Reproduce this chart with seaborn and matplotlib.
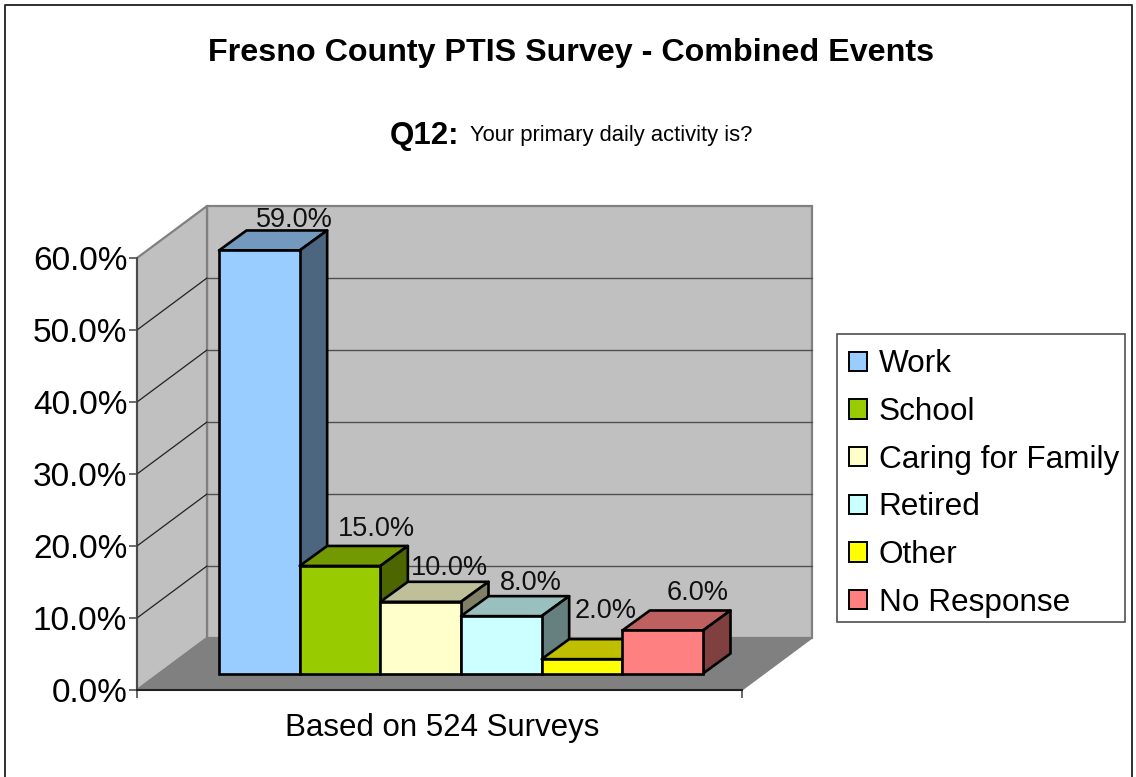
import matplotlib
matplotlib.use("Agg")
import matplotlib.pyplot as plt
from matplotlib.patches import Polygon, Patch, Rectangle
from matplotlib.lines import Line2D
from matplotlib.colors import to_rgb
import seaborn as sns
import pandas as pd

categories = ["Work", "School", "Caring for Family", "Retired", "Other", "No Response"]
values = [59.0, 15.0, 10.0, 8.0, 2.0, 6.0]
colors = ["#99CCFF", "#99CC00", "#FFFFCC", "#CCFFFF", "#FFFF00", "#FF8080"]
y_ticks = [0, 10, 20, 30, 40, 50, 60]
title = "Fresno County PTIS Survey - Combined Events"
question = "Q12:"
subtitle = "Your primary daily activity is?"
xlabel = "Based on 524 Surveys"
label_dx_px = [35, 36, 29, 29, 24, 35]
label_dy_px = [30, 37, 34, 33, 48, 37]

W, H = 1136, 777
sns.set_theme(style="white")
plt.rcParams["font.family"] = ["Liberation Sans", "DejaVu Sans"]
df = pd.DataFrame({"category": categories, "value": values})

fig = plt.figure(figsize=(W / 100, H / 100), dpi=100, facecolor="white")


def px_axes(x0, x1, y_top, y_bottom):
    return fig.add_axes([x0 / W, 1 - y_bottom / H, (x1 - x0) / W, (y_bottom - y_top) / H])


# Front plane of the chart box: value axis and floor edge
ax = px_axes(137, 742, 258, 690)
ax.set_xlim(0, 1)
ax.set_ylim(0, 60)
ax.patch.set_alpha(0)
depth_x = 70 / 605
depth_y = 52 / 7.2

wall_kw = dict(facecolor="#C0C0C0", edgecolor="#808080", linewidth=1.6, clip_on=False, zorder=1)
ax.add_patch(Polygon([(depth_x, depth_y), (1 + depth_x, depth_y), (1 + depth_x, 60 + depth_y), (depth_x, 60 + depth_y)], **wall_kw))
ax.add_patch(Polygon([(0, 0), (depth_x, depth_y), (depth_x, 60 + depth_y), (0, 60)], **wall_kw))
ax.add_patch(Polygon([(0, 0), (1, 0), (1 + depth_x, depth_y), (depth_x, depth_y)],
                     facecolor="#808080", edgecolor="#808080", linewidth=1, clip_on=False, zorder=1.5))
for t in y_ticks[1:-1]:
    ax.plot([0, depth_x], [t, t + depth_y], color="#202020", lw=0.9, clip_on=False, zorder=1.6)
    ax.plot([depth_x, 1 + depth_x], [t + depth_y, t + depth_y], color="#505050", lw=1.0, clip_on=False, zorder=1.6)

ax.set_yticks(y_ticks)
ax.set_yticklabels([f"{t:.1f}%" for t in y_ticks], fontsize=24, color="black")
ax.set_xticks([0, 1])
ax.set_xticklabels(["", ""])
ax.tick_params(axis="both", length=6, width=1.1, color="#404040", direction="out", pad=1,
               left=True, bottom=True)
ax.set_xlabel(xlabel, fontsize=22.5, color="black", labelpad=9.5)
ax.xaxis.label.set_x(0.505)
for side in ("top", "right"):
    ax.spines[side].set_visible(False)
ax.spines["left"].set_color("#404040")
ax.spines["left"].set_linewidth(1.2)
ax.spines["left"].set_zorder(3)
ax.spines["bottom"].set_color("#202020")
ax.spines["bottom"].set_linewidth(1.5)
ax.spines["bottom"].set_zorder(3)

# Plane of the bar fronts
bar_ax = px_axes(219, 703, 673.5 - 60 * 7.17, 673.5)
sns.barplot(data=df, x="category", y="value", hue="category", palette=colors, order=categories,
            hue_order=categories, dodge=False, width=1.0, saturation=1, edgecolor="black",
            linewidth=1.9, legend=False, ax=bar_ax)
bar_ax.set_xlim(-0.5, 5.5)
bar_ax.set_ylim(0, 60)
bar_ax.axis("off")
bar_ax.patch.set_alpha(0)
bar_dx = 27.5 / (484 / 6)
bar_dy = 20 / 7.17


def shade(color, f):
    return tuple(c * f for c in to_rgb(color))


fronts = [p for p in bar_ax.patches if p.get_height() > 0]
for i, (bar, col) in enumerate(zip(fronts, colors)):
    x0, x1, h = bar.get_x(), bar.get_x() + bar.get_width(), bar.get_height()
    z = 3 + i
    bar_ax.add_patch(Polygon([(x0, h), (x1, h), (x1 + bar_dx, h + bar_dy), (x0 + bar_dx, h + bar_dy)],
                             facecolor=shade(col, 0.75), edgecolor="black", linewidth=1.9,
                             clip_on=False, zorder=z, joinstyle="round"))
    bar_ax.add_patch(Polygon([(x1, 0), (x1 + bar_dx, bar_dy), (x1 + bar_dx, h + bar_dy), (x1, h)],
                             facecolor=shade(col, 0.5), edgecolor="black", linewidth=1.9,
                             clip_on=False, zorder=z + 0.1, joinstyle="round"))
    bar.set_zorder(z + 0.2)
    bar.set_clip_on(False)
    bar_ax.annotate(f"{values[i]:.1f}%", (i, h), xytext=(label_dx_px[i] * 0.72, label_dy_px[i] * 0.72),
                    textcoords="offset points", ha="center", va="center", fontsize=19.5,
                    color="#101010", zorder=20, annotation_clip=False)

# Titles
fig.text(571 / W, 1 - 53 / H, title, ha="center", va="center", fontsize=23.2, fontweight="bold", color="black")
fig.text(459 / W, 1 - 136 / H, question, ha="right", va="center", fontsize=22.5, fontweight="bold", color="black")
fig.text(470 / W, 1 - 136 / H, subtitle, ha="left", va="center", fontsize=15.85, color="black")

# Legend box and entries
fig.add_artist(Rectangle((836.5 / W, 1 - 622 / H), (1125 - 836.5) / W, (622 - 334) / H, transform=fig.transFigure,
                         facecolor="white", edgecolor="#505050", linewidth=1.2, zorder=1))
handles = [Patch(facecolor=c, edgecolor="black", linewidth=1.4, label=n) for c, n in zip(colors, categories)]
leg = fig.legend(handles=handles, loc="upper left", bbox_to_anchor=(848.5 / W, 1 - 349.5 / H), borderaxespad=0,
                 fontsize=22.7, frameon=False,
                 handlelength=0.58, handleheight=0.58, handletextpad=0.38, labelspacing=0.56,
                 borderpad=0, labelcolor="black")
leg.set_zorder(2)

# Chart frame (open at the bottom where the image is cropped)
fig.add_artist(Line2D([4.5 / W, 4.5 / W, 1132 / W, 1132 / W], [0, 1 - 4.5 / H, 1 - 4.5 / H, 0],
                      transform=fig.transFigure, color="#303030", linewidth=1.4))

fig.savefig("out.png", dpi=100, facecolor="white")
